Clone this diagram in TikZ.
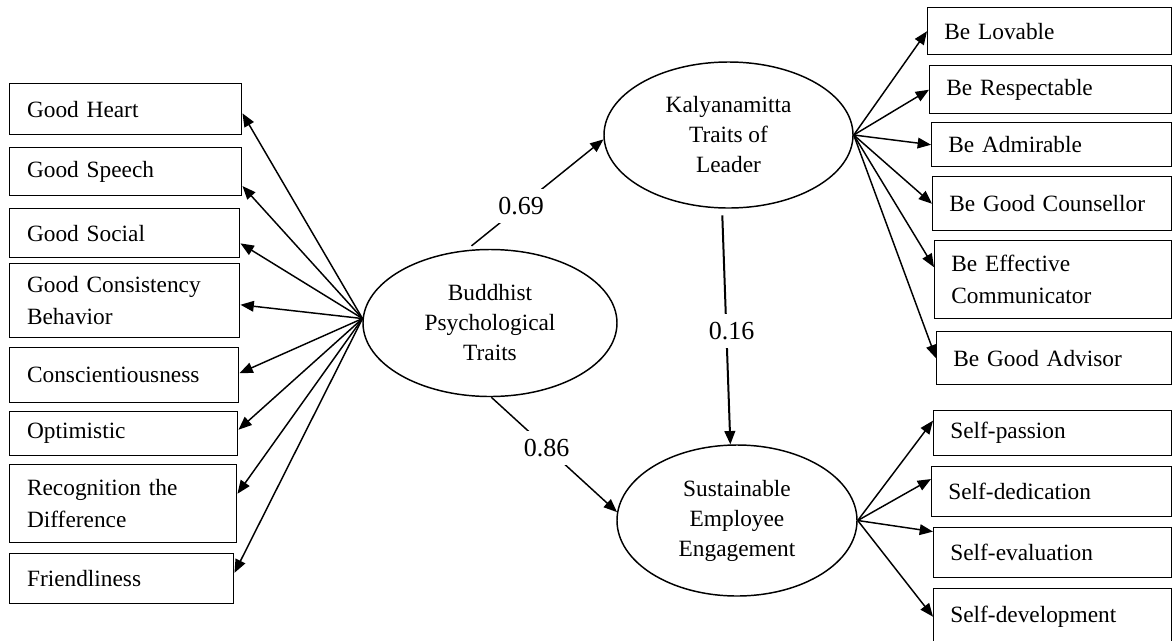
\documentclass[tikz,border=0pt]{standalone}
\usepackage{fontspec}
\setmainfont{Liberation Serif}
\usetikzlibrary{shapes.geometric,arrows.meta}

\tikzset{every picture/.style={line width=1.1pt}}
\tikzset{
  itembox/.style={draw, rectangle, anchor=north west, align=left, inner xsep=13pt, inner ysep=2pt, font=\fontsize{17.5}{24}\selectfont},
  latent/.style={draw, ellipse, align=center, inner sep=0pt, font=\fontsize{17.5}{22.5}\selectfont},
  arr/.style={-{Triangle[length=10pt,width=8pt]}},
  coef/.style={fill=white, inner sep=6pt, font=\fontsize{19.5}{20}\selectfont}
}

\begin{document}
\begin{tikzpicture}[x=0.75pt,y=0.75pt,yscale=-1,xscale=1]
%set diagram area 1172 x 640
\useasboundingbox (0,0) rectangle (1172,640);

%Shape: Ellipse [latent variables]
\node[latent, minimum width=190.5pt, minimum height=110.25pt] (bpt) at (490,323) {Buddhist\\Psychological\\Traits};
\node[latent, minimum width=186.75pt, minimum height=109.5pt] (ktl) at (728.5,135) {Kalyanamitta\\Traits of\\Leader};
\node[latent, minimum width=180pt, minimum height=113.25pt] (see) at (737,520.5) {Sustainable\\Employee\\Engagement};

%Shape: Rectangle [left items]
\node[itembox, text width=148pt, minimum height=38.25pt] (gh) at (9,83) {Good Heart};
\node[itembox, text width=148pt, minimum height=36pt] (gsp) at (9,147) {Good Speech};
\node[itembox, text width=146.5pt, minimum height=36.75pt] (gso) at (9,208) {Good Social};
\node[itembox, text width=146.5pt, minimum height=55.5pt] (gcb) at (9,263) {Good Consistency\\Behavior};
\node[itembox, text width=145.75pt, minimum height=41.25pt] (con) at (9,347) {Conscientiousness};
\node[itembox, text width=145pt, minimum height=33pt] (opt) at (9,411) {Optimistic};
\node[itembox, text width=144.25pt, minimum height=58.5pt] (rec) at (9,464) {Recognition the\\Difference};
\node[itembox, text width=142pt, minimum height=37.5pt] (fri) at (9,553) {Friendliness};

%Shape: Rectangle [leader items]
\node[itembox, inner xsep=12.5pt, text width=158pt, minimum height=35.25pt] (lov) at (927,7) {Be Lovable};
\node[itembox, inner xsep=12.5pt, text width=156.5pt, minimum height=36pt] (res) at (929,65) {Be Respectable};
\node[itembox, inner xsep=12.5pt, text width=155pt, minimum height=33pt] (adm) at (931,122) {Be Admirable};
\node[itembox, inner xsep=12.5pt, text width=154.25pt, minimum height=40.5pt] (cou) at (932,176) {Be Good Counsellor};
\node[itembox, inner xsep=12.5pt, text width=152.75pt, minimum height=58.5pt] (eff) at (934,240) {Be Effective\\Communicator};
\node[itembox, inner xsep=12.5pt, text width=151.25pt, minimum height=39.75pt] (adv) at (936,331) {Be Good Advisor};

%Shape: Rectangle [engagement items]
\node[itembox, inner xsep=12.5pt, text width=153.5pt, minimum height=33.75pt] (spa) at (933,410) {Self-passion};
\node[itembox, inner xsep=12.5pt, text width=155pt, minimum height=37.5pt] (sde) at (931,466) {Self-dedication};
\node[itembox, inner xsep=12.5pt, text width=153.5pt, minimum height=37.5pt] (sev) at (933,527) {Self-evaluation};
\node[itembox, inner xsep=12.5pt, text width=153.5pt, minimum height=42pt] (sdv) at (933,588) {Self-development};

%Straight Lines [paths with coefficients]
\draw[arr, shorten <=5pt] (bpt.108) -- node[coef, pos=0.4] {0.69} (ktl.182);
\draw[arr, line width=1.5pt, shorten <=5pt] (ktl.265) -- node[coef, pos=0.52, xshift=4pt] {0.16} (see.95);
\draw[arr] (bpt.271) -- node[coef, pos=0.44] {0.86} (see.176);

%Straight Lines [left items]
\draw[arr] (bpt.178) -- (gh.-2);
\draw[arr] (bpt.178) -- (gsp.-7);
\draw[arr] (bpt.178) -- (gso.-5);
\draw[arr] (bpt.178) -- (gcb.-2);
\draw[arr] (bpt.178) -- (con.1);
\draw[arr] (bpt.178) -- (opt.2);
\draw[arr] (bpt.178) -- (rec.5);
\draw[arr] (bpt.178) -- (fri.3);

%Straight Lines [leader items]
\draw[arr] (ktl.east) -- (lov.west);
\draw[arr] (ktl.east) -- (res.west);
\draw[arr] (ktl.east) -- (adm.west);
\draw[arr] (ktl.east) -- (cou.west);
\draw[arr] (ktl.east) -- (eff.174);
\draw[arr] (ktl.east) -- (adv.west);

%Straight Lines [engagement items]
\draw[arr] (see.east) -- (spa.174);
\draw[arr] (see.east) -- (sde.174);
\draw[arr] (see.east) -- (sev.170);
\draw[arr] (see.east) -- (sdv.west);

\end{tikzpicture}
\end{document}
